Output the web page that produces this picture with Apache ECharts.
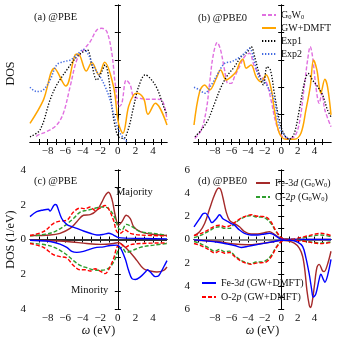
<!DOCTYPE html>
<html><head><meta charset="utf-8">
<script src="https://cdn.jsdelivr.net/npm/echarts@6/dist/echarts.min.js"></script>
<style>html,body{margin:0;padding:0;background:#fff}#c{width:338px;height:338px}</style>
</head><body><div id="c"></div>
<script>
// ---------- data ----------
const xTicksA = [-9,-8,-7,-6,-5,-4,-3,-2,-1,0,1,2,3,4,5];
const xTicksB = [-10,-9,-8,-7,-6,-5,-4,-3,-2,-1,0,1,2,3,4,5];
const xTickLabels = [-8,-6,-4,-2,0,2,4];

// (a) @PBE
const aG0W0 = [[-9.3,0.2],[-9.05,0.26],[-8.1,0.38],[-6.96,0.62],[-6.2,1.05],[-5.43,2.02],[-4.67,2.99],[-3.91,3.36],[-3.15,3.66],[-2.39,4.09],[-1.82,4.15],[-1.25,4.03],[-0.68,3.24],[-0.3,2.14],[0.16,1.29],[0.46,1.41],[0.96,2.26],[1.42,2.08],[1.8,1.65],[2.56,1.59],[3.32,1.56],[4.46,1.56],[5.03,1.53],[5.6,0.8]];
const aDMFT = [[-10,0.68],[-8.48,1.53],[-7.22,2.69],[-5.93,2.04],[-4.86,3.18],[-4.5,3.21],[-3.6,2.59],[-2.96,2.9],[-2.16,2.45],[-1.51,2.91],[-0.49,2.02],[0.08,0.68],[0.58,0.32],[1.22,1.29],[1.8,1.72],[2.18,1.78],[2.94,1.59],[3.43,1.01],[4.27,1.41],[5.6,0.62]];
const aExp1 = [[-10,0.19],[-8.86,0.44],[-7.72,1.53],[-6.96,2.08],[-5.81,2.63],[-4.67,3.11],[-3.91,3.3],[-3.46,3.36],[-2.96,2.81],[-2.39,2.26],[-1.82,2.57],[-1.44,2.81],[-1.06,2.38],[-0.68,1.29],[-0.3,0.56],[0.08,0.19],[0.65,0.13],[1.22,0.5],[1.8,1.29],[2.37,2.02],[3.13,2.45],[3.7,2.32],[4.46,1.96],[5.22,1.29],[5.6,0.99]];
const aExp2 = [[-10,2.0],[-9.24,1.84],[-8.48,1.9],[-7.72,2.26],[-6.96,2.81],[-6.2,2.93],[-5.43,2.99],[-4.67,3.18],[-3.91,3.38],[-3.34,3.18],[-2.77,2.75],[-2.01,2.38],[-1.44,2.02],[-0.87,1.53],[-0.3,0.8],[0.27,0.32],[1.03,0.01]];

// (b) @PBE0
const bG0W0 = [[-10.4,0.13],[-9.62,0.44],[-9.02,1.17],[-8.62,2.14],[-8.22,3.11],[-7.7,3.63],[-7.3,3.36],[-6.82,2.63],[-6.42,2.14],[-6.02,2.14],[-5.62,2.38],[-5.02,2.75],[-4.42,3.11],[-3.82,3.24],[-3.22,2.75],[-2.42,2.38],[-1.82,2.2],[-1.22,1.53],[-0.62,0.68],[-0.02,0.26],[0.78,0.13],[1.58,0.19],[2.18,0.68],[2.78,2.02],[3.18,2.99],[3.5,3.48],[3.78,3.11],[4.18,2.02],[4.58,1.41],[4.9,1.78],[5.26,1.17],[6,0.56]];
const bDMFT = [[-10.5,0.62],[-9.82,1.84],[-9.22,2.08],[-8.62,1.9],[-7.82,2.32],[-7.3,2.63],[-6.62,2.26],[-6.02,2.38],[-5.42,2.57],[-5.02,2.87],[-4.62,3.02],[-4.22,2.69],[-3.62,2.81],[-3.02,2.38],[-2.42,2.2],[-1.82,2.45],[-1.22,1.96],[-0.82,1.17],[-0.22,0.32],[0.58,0.1],[1.58,0.1],[2.38,0.32],[2.98,1.17],[3.5,2.02],[3.9,2.99],[4.3,2.63],[4.78,1.78],[5.26,2.29],[5.58,2.02],[6,0.99]];
const bExp1 = [[-10.4,0.19],[-9.62,0.44],[-8.82,0.8],[-8.02,1.41],[-7.22,2.02],[-6.42,2.45],[-5.62,2.75],[-4.82,3.11],[-4.02,3.3],[-3.62,3.48],[-3.14,3.05],[-2.62,2.45],[-2.14,2.08],[-1.7,2.75],[-1.3,2.63],[-0.82,1.78],[-0.22,0.8],[0.38,0.26],[0.98,0.1],[1.58,0.32],[2.18,1.17],[2.78,2.14],[3.26,2.5],[3.78,2.26],[4.38,2.02],[4.98,1.72],[5.58,1.17],[6,0.92]];
const bExp2 = [[-10.5,2.0],[-9.82,1.9],[-9.22,1.78],[-8.42,2.08],[-7.62,2.5],[-6.82,2.87],[-6.02,2.93],[-5.22,3.05],[-4.42,3.24],[-3.82,3.42],[-3.22,2.93],[-2.62,2.32],[-2.02,2.2],[-1.42,1.9],[-0.82,1.53],[-0.22,0.56],[0.38,0.26],[0.98,0.1],[1.2,0.05]];

// (c) @PBE  majority (+) / minority (-)
const cFeG0W0Up = [[-10,0.23],[-7.72,0.26],[-6.58,0.36],[-5.43,0.64],[-4.67,1.02],[-3.91,1.4],[-3.15,1.43],[-2.39,1.68],[-1.82,2.15],[-1.44,2.53],[-1.06,2.72],[-0.68,2.34],[-0.3,1.4],[0.08,0.83],[0.46,1.02],[0.96,1.4],[1.42,1.21],[1.8,0.74],[2.56,0.45],[3.7,0.32],[5.6,0.23]];
const cOG0W0Up = [[-10,0.21],[-7.72,0.36],[-6.2,0.74],[-5.05,1.21],[-4.29,1.58],[-3.53,1.68],[-2.77,1.77],[-2.01,1.87],[-1.44,1.87],[-0.87,1.68],[-0.3,1.21],[0.08,0.64],[0.46,0.55],[0.96,0.87],[1.61,0.74],[2.56,0.45],[4.08,0.36],[5.6,0.23]];
const cODMFTUp = [[-10,0.23],[-8.48,0.45],[-7.34,0.92],[-6.58,1.06],[-5.81,1.11],[-5.05,1.58],[-4.29,1.81],[-3.72,1.77],[-3.15,1.87],[-2.58,1.68],[-2.01,1.81],[-1.44,1.96],[-1.06,1.77],[-0.49,1.11],[-0.11,0.45],[0.27,0.36],[0.84,0.55],[1.42,0.36],[2.56,0.26],[5.6,0.21]];
const cFeDMFTUp = [[-10,1.32],[-9.24,1.6],[-8.48,1.7],[-7.91,1.74],[-7.72,1.64],[-7.15,2.02],[-6.96,1.98],[-6.39,1.21],[-5.81,0.87],[-5.24,0.74],[-4.67,0.64],[-3.91,0.49],[-3.15,0.36],[-2.39,0.26],[-1.63,0.3],[-1.06,0.36],[-0.49,0.26],[0.08,0.11],[1.03,0.08],[5.6,0.04]];
const cFeDMFTDn = [[-10,-0.04],[-7.72,-0.11],[-6.58,-0.26],[-5.81,-0.45],[-5.24,-0.68],[-4.67,-0.74],[-3.91,-0.68],[-3.15,-0.55],[-2.39,-0.45],[-1.63,-0.42],[-0.87,-0.34],[-0.11,-0.32],[0.27,-0.45],[0.84,-1.11],[1.22,-1.77],[1.61,-2.25],[1.99,-2.3],[2.56,-2.15],[3.13,-1.87],[3.39,-1.74],[3.7,-1.87],[4.27,-2.13],[4.65,-2.08],[5.22,-1.58],[5.6,-1.21]];
const cFeG0W0Dn = [[-10,-0.04],[-5.81,-0.11],[-3.53,-0.23],[-2.01,-0.28],[-0.49,-0.23],[0.08,-0.17],[0.65,-0.36],[1.42,-0.74],[2.18,-1.21],[2.94,-1.68],[3.7,-1.81],[4.46,-1.87],[5.22,-1.77],[5.6,-1.58]];
const cOG0W0Dn = [[-10,-0.21],[-7.72,-0.36],[-6.2,-0.74],[-5.05,-1.21],[-4.29,-1.49],[-3.53,-1.62],[-2.77,-1.74],[-2.01,-1.77],[-1.44,-1.74],[-0.87,-1.58],[-0.3,-1.11],[0.08,-0.55],[0.46,-0.45],[0.96,-0.74],[1.61,-0.64],[2.56,-0.45],[4.08,-0.32],[5.6,-0.23]];
const cODMFTDn = [[-10,-0.23],[-8.48,-0.45],[-7.34,-0.87],[-6.58,-0.98],[-5.81,-1.06],[-5.05,-1.49],[-4.29,-1.74],[-3.72,-1.74],[-3.15,-1.81],[-2.58,-1.68],[-2.01,-1.81],[-1.44,-1.96],[-1.06,-1.74],[-0.49,-1.11],[-0.11,-0.45],[0.27,-0.23],[0.84,-0.45],[1.42,-0.3],[2.56,-0.23],[5.6,-0.19]];

// (d) @PBE0
const dFeG0W0Up = [[-10.5,0.34],[-9.82,0.68],[-9.22,1.38],[-8.62,2.65],[-8.22,3.49],[-7.82,4.2],[-7.54,4.45],[-7.3,4.34],[-7.02,3.63],[-6.62,2.37],[-6.22,1.66],[-5.62,1.38],[-5.02,1.1],[-4.42,0.68],[-3.62,0.48],[-2.82,0.48],[-2.02,0.59],[-1.42,0.68],[-0.82,0.45],[-0.22,0.17],[0.38,0.06],[2.0,0.0],[6,0.0]];
const dFeDMFTUp = [[-10.5,1.1],[-9.82,1.8],[-9.42,2.23],[-9.14,2.28],[-8.74,1.94],[-8.34,1.46],[-7.82,1.8],[-7.42,2.14],[-7.02,1.8],[-6.5,1.58],[-6.02,1.38],[-5.62,1.24],[-5.02,0.82],[-4.42,0.54],[-3.62,0.39],[-2.82,0.39],[-2.02,0.48],[-1.42,0.54],[-0.82,0.39],[-0.22,0.11],[0.38,0.0],[6,0.0]];
const dOG0W0Up = [[-10.5,0.17],[-9.62,0.39],[-8.82,0.68],[-8.02,1.01],[-7.42,1.1],[-6.82,0.96],[-6.22,0.96],[-5.62,1.38],[-4.82,1.8],[-4.02,2.03],[-3.62,2.08],[-3.02,1.94],[-2.42,1.94],[-1.82,1.8],[-1.22,1.38],[-0.62,0.68],[-0.02,0.17],[0.58,0.0],[1.58,0.0],[2.78,0.17],[3.98,0.34],[4.78,0.39],[6,0.25]];
const dODMFTUp = [[-10.5,0.34],[-9.62,0.54],[-8.82,0.82],[-8.02,1.15],[-7.42,1.24],[-6.82,1.1],[-6.22,1.18],[-5.62,1.46],[-4.82,1.86],[-4.02,2.08],[-3.62,2.14],[-3.02,2.03],[-2.42,2.0],[-1.82,1.94],[-1.22,1.52],[-0.62,0.73],[-0.02,0.2],[0.58,0.0],[1.58,0.06],[2.78,0.25],[3.98,0.45],[4.78,0.54],[6,0.34]];
const dFeG0W0Dn = [[-10.5,-0.06],[-7.62,-0.17],[-5.62,-0.39],[-4.02,-0.45],[-2.42,-0.34],[-0.82,-0.17],[-0.02,-0.06],[0.78,-0.11],[1.58,-0.31],[2.18,-0.73],[2.58,-1.44],[2.86,-2.7],[3.1,-4.39],[3.38,-5.66],[3.5,-5.86],[3.7,-5.52],[3.98,-4.11],[4.3,-2.42],[4.58,-2.14],[4.98,-2.7],[5.18,-2.76],[5.58,-2.14],[6,-1.01]];
const dFeDMFTDn = [[-10.5,-0.03],[-7.62,-0.23],[-5.62,-0.51],[-4.82,-0.68],[-4.02,-0.59],[-2.42,-0.37],[-0.82,-0.17],[-0.02,-0.06],[1.18,-0.06],[1.98,-0.23],[2.58,-0.59],[2.98,-1.58],[3.38,-2.99],[3.66,-4.25],[3.86,-4.96],[4.18,-4.68],[4.58,-3.41],[4.78,-2.99],[5.06,-3.41],[5.26,-3.69],[5.58,-3.13],[6,-1.72]];
const dOG0W0Dn = [[-10.5,-0.17],[-9.62,-0.39],[-8.82,-0.68],[-8.02,-1.01],[-7.42,-0.85],[-6.82,-1.05],[-6.22,-1.0],[-5.62,-1.38],[-4.82,-1.8],[-4.02,-2.03],[-3.62,-2.08],[-3.02,-1.94],[-2.42,-1.94],[-1.82,-1.8],[-1.22,-1.38],[-0.62,-0.68],[-0.02,-0.17],[0.58,0.0],[1.58,-0.02],[2.78,-0.12],[3.98,-0.25],[4.78,-0.3],[6,-0.2]];
const dODMFTDn = [[-10.5,-0.34],[-9.62,-0.54],[-8.82,-0.82],[-8.02,-1.15],[-7.42,-1.0],[-6.82,-1.18],[-6.22,-1.12],[-5.62,-1.46],[-4.82,-1.86],[-4.02,-2.08],[-3.62,-2.14],[-3.02,-2.03],[-2.42,-2.0],[-1.82,-1.94],[-1.22,-1.52],[-0.62,-0.73],[-0.02,-0.2],[0.58,0.0],[1.58,-0.04],[2.78,-0.15],[3.98,-0.3],[4.78,-0.35],[6,-0.25]];

// ---------- styling ----------
const F = 'Liberation Serif';
const C = {g0w0:'#e070e0', dmft:'#ffa500', exp1:'#000000', exp2:'#4169e1',
           feG:'#a52a2a', oG:'#2e9e2e', feD:'#0000ff', oD:'#ff0000'};
const DASH = [4,2], DOT = [1.3,1.7];

const grids = [
  {left:30, top:5, width:137, height:137},
  {left:194, top:5, width:137, height:137},
  {left:30, top:170, width:137, height:141},
  {left:194, top:170, width:137, height:141}
];
const ranges = [[-10,5.6],[-10.5,6],[-10,5.6],[-10.5,6]];
const lineAx = {show:true, lineStyle:{color:'#000', width:1}};
const minus = v => String(v).replace('-', '\u2212');

const xAxis = [], yAxis = [];
for (let g = 0; g < 4; g++) {
  const ticks = (g % 2 === 0) ? xTicksA : xTicksB;
  ['bottom','top'].forEach((pos, k) => {
    const ax = {type:'value', gridIndex:g, position:pos, min:ranges[g][0], max:ranges[g][1],
      axisLine:lineAx, splitLine:{show:false},
      axisTick:{inside:true, length:3, customValues:ticks, lineStyle:{color:'#000'}},
      axisLabel:{show:k===0, customValues:xTickLabels, formatter:minus, fontFamily:F, fontSize:11, color:'#111', margin:4}};
    if (k === 0 && g >= 2) {
      ax.name = '{i|\u03c9} (eV)'; ax.nameLocation = 'middle'; ax.nameGap = 12;
      ax.nameTextStyle = {fontFamily:F, fontSize:12, color:'#111', rich:{i:{fontFamily:F, fontStyle:'italic', fontSize:12, color:'#111'}}};
    }
    xAxis.push(ax);
  });
  const ylim = g < 2 ? [0,5] : (g === 2 ? [-4,4] : [-6,6]);
  ['left','right'].forEach((pos, k) => {
    const ax = {type:'value', gridIndex:g, position:pos, min:ylim[0], max:ylim[1], interval:1,
      axisLine:lineAx, splitLine:{show:false},
      axisTick:{inside:true, length:3, lineStyle:{color:'#000'}},
      axisLabel:{show: k===0 && g>=2, formatter: v => (v % 2 === 0 ? String(Math.abs(v)) : ''), fontFamily:F, fontSize:11, color:'#111', margin:4}};
    if (k === 0 && (g === 0 || g === 2)) {
      ax.name = g === 0 ? 'DOS' : 'DOS (1/eV)';
      ax.nameLocation = 'middle'; ax.nameGap = 13;
      ax.nameTextStyle = {fontFamily:F, fontSize:12, color:'#111'};
    }
    yAxis.push(ax);
  });
}

function S(name, data, color, dash, g, width, z) {
  return {type:'line', name, data, xAxisIndex:2*g, yAxisIndex:2*g, showSymbol:false, symbol:'none',
    smooth:0.35, clip:true, z:z||2,
    lineStyle:{color, width:width||1.4, type:dash||'solid'}, itemStyle:{color}};
}

const series = [
  S('G0W0', aG0W0, C.g0w0, DASH, 0), S('GW+DMFT', aDMFT, C.dmft, 'solid', 0, 1.5),
  S('Exp1', aExp1, C.exp1, DOT, 0, 1.3), S('Exp2', aExp2, C.exp2, DOT, 0, 1.5),
  S('G0W0', bG0W0, C.g0w0, DASH, 1), S('GW+DMFT', bDMFT, C.dmft, 'solid', 1, 1.5),
  S('Exp1', bExp1, C.exp1, DOT, 1, 1.3), S('Exp2', bExp2, C.exp2, DOT, 1, 1.5),

  S('FeG', cFeG0W0Up, C.feG, 'solid', 2), S('OG', cOG0W0Up, C.oG, DASH, 2),
  S('OD', cODMFTUp, C.oD, DASH, 2), S('FeD', cFeDMFTUp, C.feD, 'solid', 2),
  S('FeG', cFeG0W0Dn, C.feG, 'solid', 2), S('OG', cOG0W0Dn, C.oG, DASH, 2),
  S('OD', cODMFTDn, C.oD, DASH, 2), S('FeD', cFeDMFTDn, C.feD, 'solid', 2),

  S('FeG', dFeG0W0Up, C.feG, 'solid', 3), S('OG', dOG0W0Up, C.oG, DASH, 3),
  S('OD', dODMFTUp, C.oD, DASH, 3), S('FeD', dFeDMFTUp, C.feD, 'solid', 3),
  S('FeG', dFeG0W0Dn, C.feG, 'solid', 3), S('OG', dOG0W0Dn, C.oG, DASH, 3),
  S('OD', dODMFTDn, C.oD, DASH, 3), S('FeD', dFeDMFTDn, C.feD, 'solid', 3)
];
// zero lines
series[11].markLine = {silent:true, symbol:['none','none'], label:{show:false},
  lineStyle:{color:'#333', width:2, type:'solid'}, data:[{yAxis:0}], z:1};
series[19].markLine = {silent:true, symbol:['none','none'], label:{show:false},
  lineStyle:{color:'#888', width:2, type:'solid'}, data:[{yAxis:0}], z:1};

const FS = 10;
const rich = {
  n:{fontFamily:F, fontSize:FS, color:'#111'},
  i:{fontFamily:F, fontSize:FS, fontStyle:'italic', color:'#111'},
  s:{fontFamily:F, fontSize:6.5, color:'#111', padding:[5,0,0,0]}
};
const labelMap = {
  'G0W0':'{n|G}{s|0}{n|W}{s|0}', 'GW+DMFT':'{n|GW+DMFT}', 'Exp1':'{n|Exp1}', 'Exp2':'{n|Exp2}',
  'FeG':'{n|Fe-3}{i|d}{n| (G}{s|0}{n|W}{s|0}{n|)}',
  'OG':'{n|O-2}{i|p}{n| (G}{s|0}{n|W}{s|0}{n|)}',
  'FeD':'{n|Fe-3}{i|d}{n| (GW+DMFT)}',
  'OD':'{n|O-2}{i|p}{n| (GW+DMFT)}'
};
function L(data, left, top, gap) {
  return {data, left, top, orient:'vertical', padding:0, itemGap:gap, itemWidth:14, itemHeight:12,
    itemTextGap:4, selectedMode:false, itemStyle:{opacity:0},
    formatter: n => labelMap[n], textStyle:{fontFamily:F, fontSize:FS, color:'#111', lineHeight:12, rich}};
}

const title = [
  {text:'(a) @PBE', left:34, top:12},
  {text:'(b) @PBE0', left:198, top:13},
  {text:'(c) @PBE', left:34, top:176},
  {text:'(d) @PBE0', left:198, top:176},
  {text:'Majority', left:116, top:187},
  {text:'Minority', left:71, top:285}
].map(t => Object.assign(t, {padding:0, textStyle:{fontFamily:F, fontSize:10.5, fontWeight:'normal', color:'#111'}}));

const chart = echarts.init(document.getElementById('c'), null, {renderer:'canvas'});
chart.setOption({
  animation:false, backgroundColor:'#fff',
  title, grid:grids, xAxis, yAxis, series,
  legend:[
    L(['G0W0','GW+DMFT','Exp1','Exp2'], 261, 9, 1),
    L(['FeG','OG'], 255, 177, 2),
    L(['FeD','OD'], 201, 277, 2)
  ]
});
</script></body></html>
